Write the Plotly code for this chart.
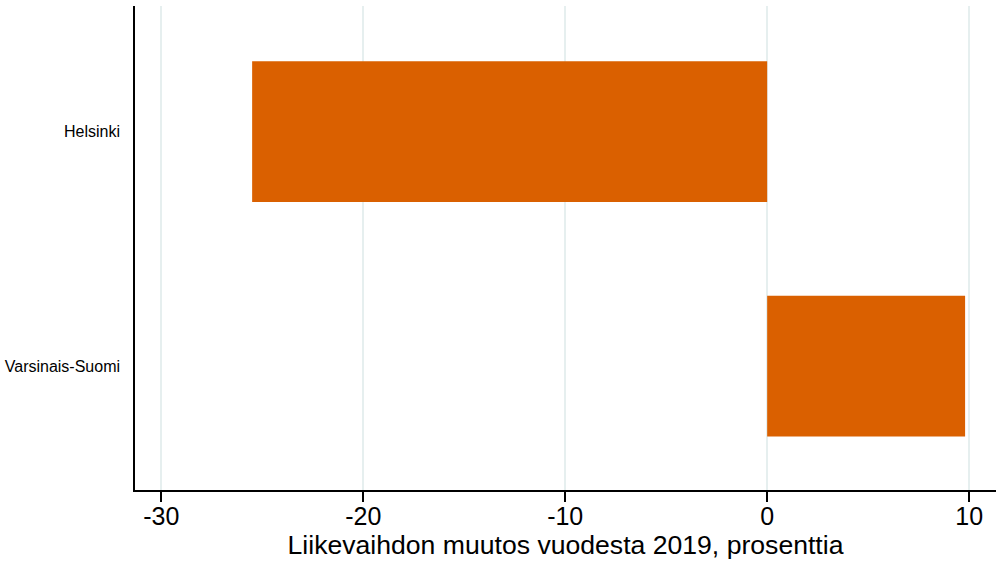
import plotly.graph_objects as go

regions = ["Varsinais-Suomi", "Helsinki"]
change_pct = [9.8, -25.5]
x_ticks = [-30, -20, -10, 0, 10]

fig = go.Figure(go.Bar(
    y=regions, x=change_pct, orientation="h",
    marker=dict(color="#DA6000", line=dict(width=0)),
    width=0.6,
))

fig.update_layout(
    width=996, height=561,
    margin=dict(l=135, r=0, t=6, b=71),
    paper_bgcolor="white", plot_bgcolor="white",
    font=dict(family="Liberation Sans, Arial, sans-serif", color="black"),
    showlegend=False,
    xaxis=dict(
        range=[-31.3, 11.33],
        tickvals=x_ticks,
        ticktext=[str(v) for v in x_ticks],
        tickfont=dict(size=25),
        ticks="outside", ticklen=10, tickcolor="black", tickwidth=1.5,
        ticklabelstandoff=-7,
        showline=True, linecolor="black", linewidth=1.5,
        showgrid=True, gridcolor="#E6EFEF", gridwidth=1.5,
        zeroline=False,
        title=dict(text="Liikevaihdon muutos vuodesta 2019, prosenttia",
                   font=dict(size=26.6), standoff=6),
    ),
    yaxis=dict(
        range=[-0.528, 1.536],
        tickfont=dict(size=16),
        ticks="", ticklen=0,
        showline=True, linecolor="black", linewidth=1.5,
        showgrid=False, zeroline=False,
        ticklabelstandoff=10,
    ),
)

fig.write_html("out.html", config={"displayModeBar": False},
               post_script="document.body.style.margin='0';document.body.style.overflow='hidden';")
